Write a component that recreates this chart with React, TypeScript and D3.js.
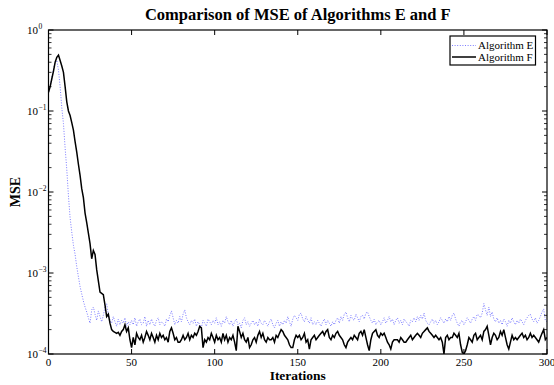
import React from "react";
import * as d3 from "d3";

// ---- data ----
const titleText = "Comparison of MSE of Algorithms E and F";
const xLabel = "Iterations";
const yLabel = "MSE";
const seriesNames = ["Algorithm E", "Algorithm F"];
const xTicks = [0, 50, 100, 150, 200, 250, 300];
const yTickExps = [0, -1, -2, -3, -4];

// Algorithm F (iterations 0..300)
const mseF: number[] = [
  0.17, 0.20, 0.25, 0.31, 0.40, 0.46, 0.49, 0.42, 0.36, 0.30,
  0.20, 0.13, 0.10, 0.088, 0.072, 0.058, 0.042, 0.031, 0.022, 0.016,
  0.011, 0.0085, 0.0055, 0.0042, 0.0031, 0.0023, 0.0015, 0.0019, 0.0017, 0.0011,
  8.0e-4, 5.8e-4, 5.6e-4, 5.4e-4, 4.0e-4, 2.9e-4, 3.1e-4, 2.4e-4, 2.0e-4, 1.9e-4,
  1.85e-4, 1.8e-4, 1.85e-4, 1.7e-4, 1.9e-4, 2.0e-4, 2.3e-4, 1.9e-4, 2.1e-4, 1.5e-4,
  1.2e-4, 1.6e-4, 1.3e-4, 1.8e-4, 1.6e-4, 1.5e-4, 1.7e-4, 1.4e-4, 1.6e-4, 1.9e-4,
  1.7e-4, 1.5e-4, 1.8e-4, 1.6e-4, 1.4e-4, 1.7e-4, 1.5e-4, 1.8e-4, 1.6e-4, 1.7e-4,
  1.5e-4, 1.6e-4, 1.4e-4, 1.9e-4, 2.1e-4, 1.8e-4, 1.5e-4, 1.6e-4, 1.4e-4, 1.4e-4,
  1.5e-4, 1.7e-4, 1.5e-4, 1.6e-4, 1.8e-4, 1.5e-4, 1.7e-4, 1.6e-4, 1.8e-4, 1.7e-4,
  1.9e-4, 2.2e-4, 2.1e-4, 1.2e-4, 1.5e-4, 1.4e-4, 1.6e-4, 1.5e-4, 1.8e-4, 1.6e-4,
  1.4e-4, 1.7e-4, 1.5e-4, 1.6e-4, 1.4e-4, 1.8e-4, 1.5e-4, 1.7e-4, 1.4e-4, 1.6e-4,
  1.5e-4, 1.7e-4, 1.4e-4, 1.1e-4, 2.2e-4, 1.9e-4, 1.6e-4, 1.8e-4, 1.5e-4, 1.4e-4,
  1.6e-4, 1.2e-4, 1.3e-4, 1.5e-4, 1.6e-4, 1.4e-4, 1.7e-4, 1.9e-4, 1.6e-4, 1.8e-4,
  1.5e-4, 1.4e-4, 1.6e-4, 1.5e-4, 1.5e-4, 1.6e-4, 1.4e-4, 1.7e-4, 1.6e-4, 1.8e-4,
  2.0e-4, 1.9e-4, 1.7e-4, 1.6e-4, 1.5e-4, 1.3e-4, 1.2e-4, 1.2e-4, 1.5e-4, 1.7e-4,
  1.6e-4, 1.7e-4, 1.5e-4, 1.6e-4, 1.8e-4, 1.4e-4, 1.5e-4, 1.15e-4, 1.5e-4, 1.6e-4,
  1.7e-4, 1.5e-4, 1.6e-4, 1.7e-4, 1.8e-4, 1.9e-4, 1.7e-4, 1.9e-4, 2.0e-4, 1.6e-4,
  1.5e-4, 1.7e-4, 1.6e-4, 1.8e-4, 1.9e-4, 1.7e-4, 1.6e-4, 1.5e-4, 1.3e-4, 1.2e-4,
  1.4e-4, 1.5e-4, 1.6e-4, 1.5e-4, 1.7e-4, 1.6e-4, 1.5e-4, 1.8e-4, 1.9e-4, 1.7e-4,
  2.0e-4, 1.6e-4, 1.3e-4, 1.1e-4, 1.5e-4, 1.8e-4, 1.9e-4, 2.0e-4, 1.7e-4, 1.6e-4,
  1.8e-4, 1.7e-4, 1.8e-4, 1.6e-4, 1.4e-4, 1.3e-4, 1.15e-4, 1.4e-4, 1.5e-4, 1.5e-4,
  1.5e-4, 1.4e-4, 1.6e-4, 1.5e-4, 1.4e-4, 1.4e-4, 1.5e-4, 1.6e-4, 1.7e-4, 1.5e-4,
  1.6e-4, 1.7e-4, 1.8e-4, 1.7e-4, 1.6e-4, 1.8e-4, 1.9e-4, 2.0e-4, 2.1e-4, 1.9e-4,
  1.8e-4, 1.7e-4, 1.6e-4, 1.7e-4, 1.6e-4, 1.5e-4, 1.6e-4, 1.4e-4, 1.0e-4, 1.6e-4,
  1.7e-4, 1.5e-4, 1.6e-4, 1.6e-4, 1.8e-4, 1.7e-4, 1.6e-4, 1.8e-4, 1.3e-4, 1.05e-4,
  1.0e-4, 1.1e-4, 1.3e-4, 1.6e-4, 1.5e-4, 1.4e-4, 1.7e-4, 1.8e-4, 1.5e-4, 1.6e-4,
  1.7e-4, 1.5e-4, 1.9e-4, 2.0e-4, 2.2e-4, 1.7e-4, 1.3e-4, 1.6e-4, 1.8e-4, 1.7e-4,
  1.5e-4, 1.6e-4, 1.9e-4, 1.7e-4, 2.0e-4, 1.6e-4, 1.3e-4, 1.15e-4, 1.4e-4, 1.7e-4,
  1.5e-4, 1.6e-4, 1.5e-4, 1.6e-4, 1.7e-4, 1.8e-4, 1.6e-4, 1.7e-4, 1.5e-4, 1.6e-4,
  1.8e-4, 1.6e-4, 1.7e-4, 1.6e-4, 1.5e-4, 1.4e-4, 1.6e-4, 1.8e-4, 2.0e-4, 1.5e-4,
  1.6e-4,
];

// Algorithm E (iterations 0..300)
const mseE: number[] = [
  0.17, 0.20, 0.26, 0.33, 0.40, 0.42, 0.32, 0.20, 0.11, 0.07,
  0.035, 0.019, 0.009, 0.0048, 0.0032, 0.0022, 0.0017, 0.0012, 9.0e-4, 6.8e-4,
  5.5e-4, 4.5e-4, 3.8e-4, 3.3e-4, 2.8e-4, 2.4e-4, 3.5e-4, 3.8e-4, 3.1e-4, 2.6e-4,
  3.4e-4, 2.9e-4, 2.5e-4, 3.0e-4, 3.8e-4, 4.2e-4, 3.1e-4, 2.6e-4, 2.4e-4, 2.9e-4,
  2.5e-4, 2.2e-4, 2.7e-4, 2.3e-4, 2.6e-4, 2.4e-4, 2.8e-4, 2.2e-4, 2.5e-4, 2.3e-4,
  2.6e-4, 2.3e-4, 2.8e-4, 2.2e-4, 2.5e-4, 2.7e-4, 2.3e-4, 2.4e-4, 2.9e-4, 2.2e-4,
  2.6e-4, 2.3e-4, 2.7e-4, 2.4e-4, 2.2e-4, 2.6e-4, 2.8e-4, 2.3e-4, 2.5e-4, 2.4e-4,
  2.2e-4, 2.7e-4, 2.5e-4, 3.0e-4, 3.4e-4, 2.8e-4, 2.3e-4, 2.6e-4, 2.4e-4, 2.9e-4,
  2.5e-4, 3.1e-4, 3.5e-4, 2.8e-4, 2.5e-4, 2.3e-4, 2.6e-4, 2.4e-4, 2.7e-4, 2.2e-4,
  2.5e-4, 2.3e-4, 2.1e-4, 2.6e-4, 2.4e-4, 2.2e-4, 2.7e-4, 2.5e-4, 2.3e-4, 2.6e-4,
  2.4e-4, 2.8e-4, 2.3e-4, 2.5e-4, 2.2e-4, 2.6e-4, 2.4e-4, 2.9e-4, 2.5e-4, 2.3e-4,
  2.6e-4, 2.2e-4, 2.5e-4, 2.7e-4, 2.3e-4, 2.4e-4, 2.1e-4, 2.6e-4, 2.8e-4, 2.3e-4,
  2.5e-4, 2.2e-4, 2.4e-4, 2.6e-4, 2.3e-4, 2.5e-4, 2.2e-4, 2.7e-4, 2.4e-4, 2.3e-4,
  2.6e-4, 2.4e-4, 2.2e-4, 2.5e-4, 2.7e-4, 2.3e-4, 2.1e-4, 2.4e-4, 2.6e-4, 2.2e-4,
  2.5e-4, 2.3e-4, 2.6e-4, 2.4e-4, 2.9e-4, 2.5e-4, 2.2e-4, 2.7e-4, 3.0e-4, 2.8e-4,
  2.6e-4, 3.1e-4, 3.2e-4, 2.7e-4, 2.5e-4, 2.9e-4, 2.6e-4, 2.4e-4, 2.8e-4, 2.3e-4,
  2.5e-4, 2.3e-4, 2.6e-4, 2.4e-4, 2.2e-4, 2.5e-4, 2.7e-4, 2.3e-4, 2.6e-4, 2.4e-4,
  2.2e-4, 2.5e-4, 2.3e-4, 2.6e-4, 2.8e-4, 2.4e-4, 2.9e-4, 2.6e-4, 3.1e-4, 3.3e-4,
  2.8e-4, 2.5e-4, 3.0e-4, 2.7e-4, 2.6e-4, 3.1e-4, 2.8e-4, 2.5e-4, 2.9e-4, 3.0e-4,
  2.7e-4, 3.2e-4, 3.3e-4, 2.9e-4, 2.6e-4, 2.4e-4, 2.7e-4, 2.3e-4, 2.5e-4, 2.6e-4,
  2.3e-4, 2.5e-4, 2.8e-4, 2.4e-4, 2.6e-4, 2.9e-4, 2.5e-4, 2.7e-4, 2.3e-4, 2.6e-4,
  2.8e-4, 2.4e-4, 2.6e-4, 2.3e-4, 2.7e-4, 2.5e-4, 2.4e-4, 2.2e-4, 2.6e-4, 2.5e-4,
  2.8e-4, 2.5e-4, 2.9e-4, 2.6e-4, 3.0e-4, 2.7e-4, 3.2e-4, 2.6e-4, 2.4e-4, 2.3e-4,
  2.5e-4, 2.7e-4, 2.4e-4, 2.6e-4, 2.3e-4, 2.5e-4, 2.8e-4, 2.6e-4, 2.4e-4, 2.7e-4,
  2.5e-4, 2.9e-4, 2.6e-4, 3.0e-4, 3.2e-4, 2.7e-4, 2.4e-4, 2.2e-4, 2.5e-4, 2.6e-4,
  2.3e-4, 2.5e-4, 2.8e-4, 2.6e-4, 2.4e-4, 2.7e-4, 2.9e-4, 2.6e-4, 3.1e-4, 3.0e-4,
  2.8e-4, 3.2e-4, 4.2e-4, 3.5e-4, 3.0e-4, 3.8e-4, 2.9e-4, 3.3e-4, 2.7e-4, 2.5e-4,
  2.8e-4, 2.4e-4, 2.6e-4, 2.3e-4, 2.7e-4, 2.5e-4, 2.2e-4, 2.6e-4, 2.4e-4, 2.8e-4,
  2.5e-4, 2.3e-4, 2.6e-4, 2.4e-4, 2.7e-4, 2.5e-4, 2.3e-4, 2.6e-4, 2.8e-4, 3.0e-4,
  3.1e-4, 2.7e-4, 2.5e-4, 2.8e-4, 2.4e-4, 2.6e-4, 2.9e-4, 3.3e-4, 3.6e-4, 2.6e-4,
  2.5e-4,
];

const W = 554;
const H = 385;
const L = 48.5, R = 547, T = 30, B = 354;
const FONT = "'Liberation Serif', 'Times New Roman', serif";
const E_COLOR = "#7a7aff";

export default function App() {
  const x = d3.scaleLinear().domain([0, 300]).range([L, R]);
  const y = d3.scaleLog().domain([1e-4, 1]).range([B, T]);

  const lineGen = d3
    .line<number>()
    .x((_, i) => x(i))
    .y((d) => y(d));

  const minorTicks: number[] = [];
  for (let e = -4; e < 0; e++) {
    for (let m = 2; m <= 9; m++) minorTicks.push(m * Math.pow(10, e));
  }

  const maj = 5;
  const minr = 3;

  return (
    <svg
      width={W}
      height={H}
      style={{ position: "absolute", left: 0, top: 0, background: "#fff" }}
      fontFamily={FONT}
    >
      <rect x={0} y={0} width={W} height={H} fill="#fff" />
      <defs>
        <clipPath id="plotclip">
          <rect x={L} y={T} width={R - L} height={B - T} />
        </clipPath>
      </defs>
      <g clipPath="url(#plotclip)">
        <path
          d={lineGen(mseE) || ""}
          fill="none"
          stroke={E_COLOR}
          strokeWidth={1}
          strokeDasharray="1,1.6"
        />
        <path d={lineGen(mseF) || ""} fill="none" stroke="#000" strokeWidth={1.5} />
      </g>

      {/* frame */}
      <rect x={L} y={T} width={R - L} height={B - T} fill="none" stroke="#000" strokeWidth={1.2} />

      {/* x ticks */}
      {xTicks.map((t) => (
        <g key={"xt" + t}>
          <line x1={x(t)} x2={x(t)} y1={B} y2={B - maj} stroke="#000" />
          <line x1={x(t)} x2={x(t)} y1={T} y2={T + maj} stroke="#000" />
          <text x={x(t)} y={366} fontSize={11} textAnchor="middle">
            {t}
          </text>
        </g>
      ))}

      {/* y ticks */}
      {yTickExps.map((e) => {
        const yy = y(Math.pow(10, e));
        return (
          <g key={"yt" + e}>
            <line x1={L} x2={L + maj} y1={yy} y2={yy} stroke="#000" />
            <line x1={R} x2={R - maj} y1={yy} y2={yy} stroke="#000" />
            <text x={38} y={yy + 4} fontSize={11} textAnchor="end">
              10
            </text>
            <text x={38.5} y={yy - 1.5} fontSize={7.5} textAnchor="start">
              {e === 0 ? "0" : "\u2212" + Math.abs(e)}
            </text>
          </g>
        );
      })}
      {minorTicks.map((v, i) => (
        <g key={"mt" + i}>
          <line x1={L} x2={L + minr} y1={y(v)} y2={y(v)} stroke="#000" strokeWidth={0.8} />
          <line x1={R} x2={R - minr} y1={y(v)} y2={y(v)} stroke="#000" strokeWidth={0.8} />
        </g>
      ))}

      {/* title and labels */}
      <text x={(L + R) / 2} y={20} fontSize={16.5} fontWeight="bold" textAnchor="middle">
        {titleText}
      </text>
      <text x={(L + R) / 2} y={380} fontSize={13.5} fontWeight="bold" textAnchor="middle">
        {xLabel}
      </text>
      <text
        transform={`translate(20,${(T + B) / 2}) rotate(-90)`}
        fontSize={14}
        fontWeight="bold"
        textAnchor="middle"
      >
        {yLabel}
      </text>

      {/* legend */}
      <rect x={450} y={36} width={85.5} height={29} fill="#fff" stroke="#000" strokeWidth={1.2} />
      <line x1={452} x2={476} y1={45.5} y2={45.5} stroke={E_COLOR} strokeWidth={1} strokeDasharray="1,1.6" />
      <line x1={452} x2={476} y1={57} y2={57} stroke="#000" strokeWidth={1.5} />
      <text x={478} y={49} fontSize={11}>
        {seriesNames[0]}
      </text>
      <text x={478} y={60.5} fontSize={11}>
        {seriesNames[1]}
      </text>
    </svg>
  );
}
